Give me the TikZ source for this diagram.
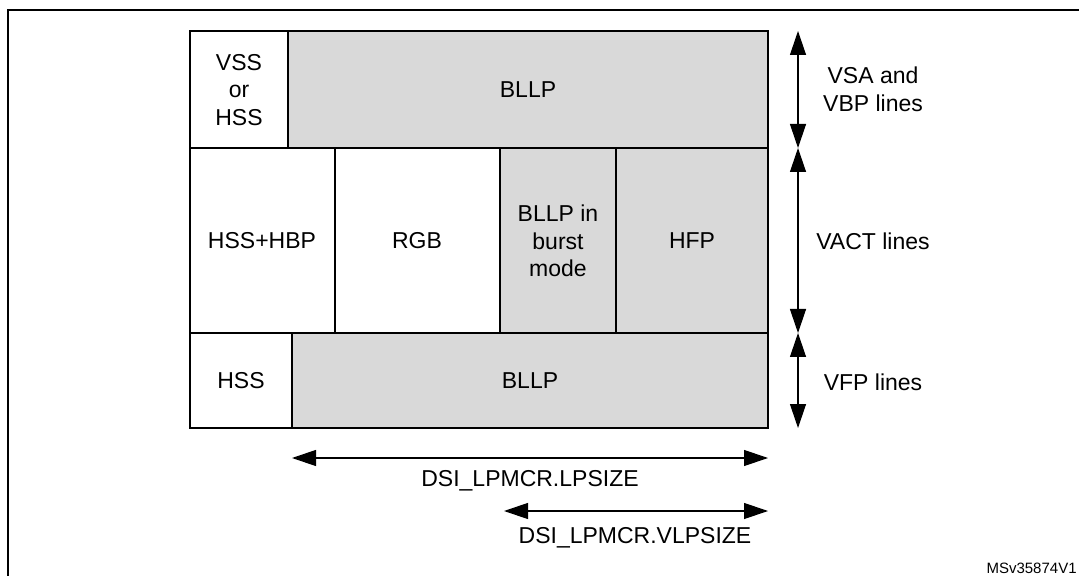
\documentclass[tikz,border=0pt]{standalone}
\usepackage{fontspec}
\setmainfont{Liberation Sans}
\usetikzlibrary{arrows.meta}

\begin{document}
\begin{tikzpicture}[x=0.5pt, y=-0.5pt, font=\fontsize{11.5}{13.8}\selectfont,
        lbl/.style={align=center, inner sep=0pt},
        dim/.style={{Triangle[length=12pt,width=8pt]}-{Triangle[length=12pt,width=8pt]}, line width=0.6pt}]
        \useasboundingbox (0,0) rectangle (1079,576);

        % outer frame
        \draw[line width=1pt] (8,620) -- (8,10) -- (1120,10);

        % blocks
        \draw[line width=0.9pt] (190,31) rectangle (288,148);
        \filldraw[fill=gray!30, line width=0.9pt] (288,31) rectangle (768,148);
        \draw[line width=0.9pt] (190,148) rectangle (335,333);
        \draw[line width=0.9pt] (335,148) rectangle (500,333);
        \filldraw[fill=gray!30, line width=0.9pt] (500,148) rectangle (616,333);
        \filldraw[fill=gray!30, line width=0.9pt] (616,148) rectangle (768,333);
        \draw[line width=0.9pt] (190,333) rectangle (292,428);
        \filldraw[fill=gray!30, line width=0.9pt] (292,333) rectangle (768,428);

        \node[lbl] (vss) at (239,90) {VSS\\or\\HSS};
        \node[lbl] (bllptop) at (528,90) {BLLP};
        \node[lbl] (hbp) at (262,241) {HSS+HBP};
        \node[lbl] (rgb) at (417,241) {RGB};
        \node[lbl] (burst) at (558,241) {BLLP in\\burst\\mode};
        \node[lbl] (hfp) at (692,241) {HFP};
        \node[lbl] (hss) at (241,381) {HSS};
        \node[lbl] (bllpbot) at (530,381) {BLLP};

        % vertical dimensions
        \coordinate (v0) at (798,31);
        \coordinate (v1) at (798,148);
        \coordinate (v2) at (798,333);
        \coordinate (v3) at (798,428);
        \draw[dim] (v0) -- (v1);
        \draw[dim] (v1) -- (v2);
        \draw[dim] (v2) -- (v3);
        \node[lbl] (vsa) at (873,89) {VSA and\\VBP lines};
        \node[lbl] (vact) at (873,241) {VACT lines};
        \node[lbl] (vfp) at (873,382) {VFP lines};

        % horizontal dimensions
        \coordinate (h0) at (292,458);
        \coordinate (h1) at (768,458);
        \coordinate (h2) at (504,511);
        \coordinate (h3) at (768,511);
        \draw[dim] (h0) -- (h1);
        \draw[dim] (h2) -- (h3);
        \node[lbl, anchor=base] (lpsize) at (530,486) {DSI\_LPMCR.LPSIZE};
        \node[lbl, anchor=base] (vlpsize) at (635,543) {DSI\_LPMCR.VLPSIZE};

        \node[lbl, anchor=base east, font=\fontsize{7.5}{9}\selectfont] (ref) at (1077,573) {MSv35874V1};
    \end{tikzpicture}
\end{document}
